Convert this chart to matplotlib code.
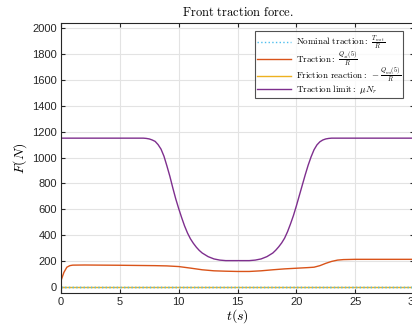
import numpy as np
import matplotlib
matplotlib.use("Agg")
import matplotlib.pyplot as plt

plt.rcParams['mathtext.fontset'] = 'cm'
plt.rcParams['font.family'] = ['Liberation Sans', 'DejaVu Sans']

# nominal traction and friction reaction (both zero)
t_flat = [0, 30]
nominal = [0, 0]
friction = [0, 0]

# traction Q_xi(5)/R
t_trac = [0, 0.25, 0.5, 0.75, 1, 2, 5, 8, 9, 10, 11, 12, 13, 14, 15, 16,
          17, 18, 19, 20, 21, 21.5, 22, 22.5, 23, 23.5, 24, 25, 30]
traction = [45, 110, 150, 162, 166, 167, 165, 162, 160, 155, 143, 130, 122, 119, 117, 117,
            122, 130, 137, 142, 147, 150, 162, 180, 195, 205, 209, 211, 211]

# traction limit mu*N
t_lim = [0, 7, 7.25, 7.5, 7.75, 8, 8.25, 8.5, 8.75, 9, 9.25, 9.5, 9.75, 10, 10.25, 10.5,
         10.75, 11, 11.25, 11.5, 11.75, 12, 12.5, 13, 13.5, 14,
         16, 16.5, 17, 17.5, 18, 18.25, 18.5, 18.75, 19, 19.25, 19.5, 19.75, 20, 20.25,
         20.5, 20.75, 21, 21.25, 21.5, 21.75, 22, 22.25, 22.5, 22.75, 23, 30]
limit = [1150, 1150, 1148, 1144, 1136, 1125, 1100, 1065, 1010, 935, 855, 765, 680, 605, 535, 470,
         415, 370, 335, 305, 280, 260, 232, 214, 205, 201,
         201, 205, 214, 232, 260, 282, 308, 338, 375, 425, 485, 550, 625, 705,
         785, 865, 940, 1005, 1060, 1098, 1122, 1136, 1144, 1148, 1150, 1150]

c_blue = (0.301, 0.745, 0.933)
c_orange = (0.85, 0.325, 0.098)
c_yellow = (0.929, 0.694, 0.125)
c_purple = (0.494, 0.184, 0.556)

fig = plt.figure(figsize=(4.12, 3.26), dpi=100)
ax = fig.add_axes([0.148, 0.1012, 0.857, 0.8273])

ax.plot(t_flat, nominal, ':', color=c_blue, lw=1.0,
        label=r'$\mathrm{Nominal\ traction{:}}\ \frac{T_{mot}}{R}$')
ax.plot(t_trac, traction, '-', color=c_orange, lw=1.0,
        label=r'$\mathrm{Traction{:}}\ \frac{Q_{xi}(5)}{R}$')
ax.plot(t_flat, friction, '-', color=c_yellow, lw=1.0,
        label=r'$\mathrm{Friction\ reaction{:}}\ -\frac{Q_{mi}(5)}{R}$')
ax.plot(t_lim, limit, '-', color=c_purple, lw=1.0,
        label=r'$\mathrm{Traction\ limit{:}}\ \mu N_r$')
# redraw dotted nominal on top so it shows over the yellow line
ax.plot(t_flat, nominal, ':', color=c_blue, lw=1.0)

ax.set_xlim(0, 30)
ax.set_ylim(-50, 2040)
ax.set_xticks([0, 5, 10, 15, 20, 25, 30])
ax.set_yticks(np.arange(0, 2001, 200))
ax.grid(True, color='#e3e3e3', lw=0.8)
ax.set_axisbelow(True)
ax.tick_params(direction='in', labelsize=8, length=3, colors='#262626',
               top=True, right=True, pad=3)
for s in ax.spines.values():
    s.set_color('#262626')
    s.set_linewidth(0.8)

ax.set_title(r'$\mathrm{Front\ traction\ force.}$', fontsize=9, pad=5)
ax.set_xlabel(r'$t(s)$', fontsize=10, labelpad=0)
ax.set_ylabel(r'$F(N)$', fontsize=10, labelpad=2)

leg = ax.legend(loc='upper right', bbox_to_anchor=(0.975, 0.98), fontsize=6.5,
                frameon=True, fancybox=False, edgecolor='#262626',
                handlelength=3.8, borderpad=0.2, labelspacing=-0.1,
                handletextpad=0.5, borderaxespad=0.3)
leg.get_frame().set_linewidth(0.8)

fig.savefig('out.png', dpi=100)
